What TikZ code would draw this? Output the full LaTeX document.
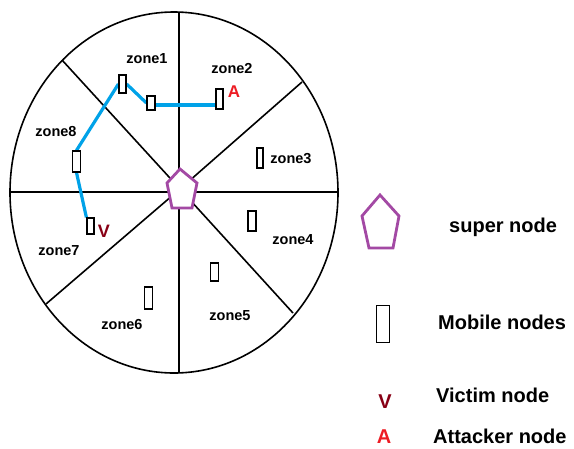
\documentclass[tikz,border=0pt]{standalone}
\usepackage{fontspec}
\setmainfont{Liberation Sans}
\definecolor{pathblue}{HTML}{00A2E8}
\definecolor{supurple}{HTML}{A349A4}
\definecolor{vicred}{HTML}{880015}
\definecolor{attred}{HTML}{ED1C24}
\begin{document}
\begin{tikzpicture}[x=1pt,y=-1pt,
  mob/.style={draw=black, line width=1.2pt, fill=white, rectangle, inner sep=0pt},
  zl/.style={font=\fontsize{14.5}{17}\selectfont\bfseries, anchor=base, inner sep=0pt},
  lg/.style={font=\fontsize{20}{24}\selectfont\bfseries, anchor=base west, inner sep=0pt},
  divider/.style={draw=black, line width=1.6pt},
  link/.style={draw=pathblue, line width=3.2pt},
  superpoly/.style={draw=supurple, line width=2.8pt, fill=white, line join=miter}]
\useasboundingbox (0,0) rectangle (574,448);
% circle and sectors
\draw[divider] (174,192.5) ellipse [x radius=164, y radius=180.5];
\coordinate (c) at (180,189);
\draw[divider] (179,12) -- (179,373);
\draw[divider] (10,192) -- (338,192);
\draw[divider] (62,60) -- (c) -- (293,313);
\draw[divider] (302,82) -- (c) -- (46,304);
% super node
\draw[superpoly] (180,169) -- (197,183) -- (192,208) -- (172,208) -- (167,183) -- cycle;
% zone labels
\node[zl] (z1) at (147,63) {zone1};
\node[zl] (z2) at (232,73) {zone2};
\node[zl] (z3) at (291,163) {zone3};
\node[zl] (z4) at (293,244) {zone4};
\node[zl] (z5) at (230,320) {zone5};
\node[zl] (z6) at (122,329) {zone6};
\node[zl] (z7) at (59,255) {zone7};
\node[zl] (z8) at (56,136) {zone8};
% mobile nodes
\node[mob, minimum width=7pt, minimum height=18pt] (m1) at (122.5,84) {};
\node[mob, minimum width=8pt, minimum height=14pt] (m1b) at (151,103) {};
\node[mob, minimum width=7pt, minimum height=20pt] (mA) at (219.5,99) {};
\node[mob, minimum width=8pt, minimum height=21pt] (m8) at (76.5,161.5) {};
\node[mob, minimum width=7pt, minimum height=16pt] (m7) at (90.5,226) {};
\node[mob, minimum width=6pt, minimum height=20pt] (m3) at (260,158) {};
\node[mob, minimum width=8pt, minimum height=20pt] (m4) at (252,221) {};
\node[mob, minimum width=8pt, minimum height=18pt] (m5) at (214.5,272) {};
\node[mob, minimum width=8pt, minimum height=22pt] (m6) at (148.5,298) {};
% path
\draw[link] (m7.north west) -- (m8.south);
\draw[link] (m8.north) -- (m1.west);
\draw[link] (m1.east) -- (m1b.west);
\draw[link] ([yshift=-2pt]m1b.east) -- ([yshift=-2pt]m1b.east -| mA.center);
\node[mob, minimum width=7pt, minimum height=18pt] at (m1) {};
\node[mob, minimum width=8pt, minimum height=14pt] at (m1b) {};
\node[mob, minimum width=7pt, minimum height=20pt] at (mA) {};
\node[mob, minimum width=8pt, minimum height=21pt] at (m8) {};
\node[mob, minimum width=7pt, minimum height=16pt] at (m7) {};
% attacker and victim marks
\node[font=\fontsize{17}{20}\selectfont\bfseries, text=attred, inner sep=0pt, anchor=base] (la) at (234,97) {A};
\node[font=\fontsize{18}{21}\selectfont\bfseries, text=vicred, inner sep=0pt, anchor=base] (lv) at (104,237) {V};
% legend
\draw[superpoly] (380,195) -- (399,216) -- (393,248) -- (369,248) -- (362,216) -- cycle;
\node[lg] (t1) at (449,232) {super node};
\node[mob, minimum width=13pt, minimum height=37pt] (legm) at (383,324) {};
\node[lg] (t2) at (438,329) {Mobile nodes};
\node[font=\fontsize{20}{24}\selectfont\bfseries, text=vicred, inner sep=0pt, anchor=base] (legv) at (385,408) {V};
\node[lg] (t3) at (436,402) {Victim node};
\node[font=\fontsize{20}{24}\selectfont\bfseries, text=attred, inner sep=0pt, anchor=base] (lega) at (384,443) {A};
\node[lg] (t4) at (433,443) {Attacker node};
\end{tikzpicture}
\end{document}
